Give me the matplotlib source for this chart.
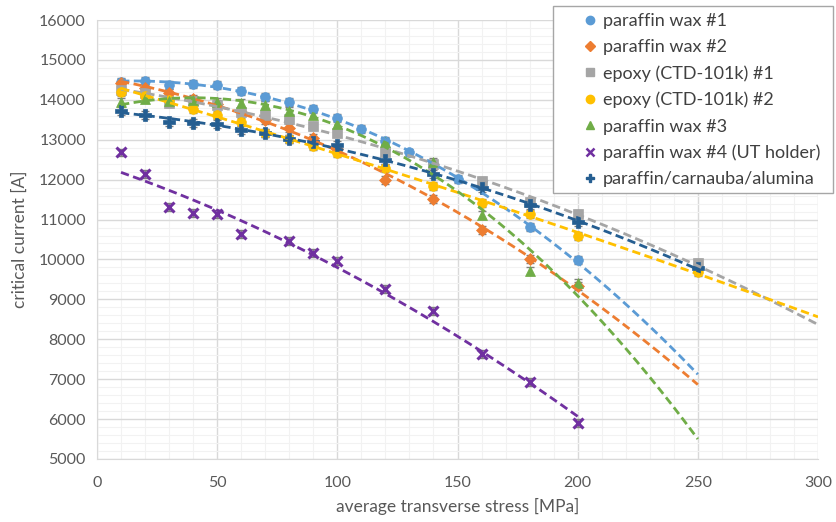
import numpy as np
import matplotlib
matplotlib.use("Agg")
import matplotlib.pyplot as plt
from matplotlib.lines import Line2D
from matplotlib.patches import Rectangle

plt.rcParams['font.family'] = ['Lato', 'DejaVu Sans']

# ---------------- data ----------------
labels = ["paraffin wax #1", "paraffin wax #2", "epoxy (CTD-101k) #1",
          "epoxy (CTD-101k) #2", "paraffin wax #3", "paraffin wax #4 (UT holder)",
          "paraffin/carnauba/alumina"]

x_pw1 = [10, 20, 30, 40, 50, 60, 70, 80, 90, 100, 110, 120, 130, 140, 150, 180, 200]
y_pw1 = [14450, 14480, 14370, 14390, 14370, 14230, 14080, 13940, 13770, 13550,
         13280, 12960, 12680, 12380, 12010, 10810, 9990]

x_pw2 = [10, 20, 30, 40, 50, 60, 70, 80, 90, 100, 120, 140, 160, 180, 200]
y_pw2 = [14430, 14300, 14160, 14030, 13900, 13700, 13500, 13290, 13040, 12760,
         11990, 11510, 10750, 10020, 9330]

x_ep1 = [10, 20, 30, 40, 50, 60, 70, 80, 90, 100, 120, 140, 160, 180, 200, 250]
y_ep1 = [14250, 14160, 13920, 13960, 13880, 13700, 13620, 13530, 13350, 13160,
         12700, 12400, 11960, 11450, 11150, 9900]

x_ep2 = [10, 20, 30, 40, 50, 60, 70, 80, 90, 100, 120, 140, 160, 180, 200, 250]
y_ep2 = [14190, 14090, 14000, 13770, 13610, 13450, 13160, 13030, 12850, 12660,
         12280, 11840, 11420, 11140, 10590, 9690]

x_pw3 = [10, 20, 30, 40, 50, 60, 70, 80, 90, 100, 120, 140, 160, 180, 200]
y_pw3 = [13950, 14030, 13980, 14000, 13940, 13910, 13860, 13710, 13610, 13390,
         12950, 12450, 11110, 9720, 9410]

x_pw4 = [10, 20, 30, 40, 50, 60, 80, 90, 100, 120, 140, 160, 180, 200]
y_pw4 = [12680, 12140, 11320, 11170, 11140, 10650, 10460, 10170, 9970, 9270,
         8710, 7640, 6930, 5900]

x_pca = [10, 20, 30, 40, 50, 60, 70, 80, 90, 100, 120, 140, 160, 180, 200, 250]
y_pca = [13720, 13620, 13450, 13410, 13390, 13240, 13170, 13010, 12950, 12860,
         12490, 12140, 11780, 11360, 10950, 9780]

err = 100  # error bar half-width [A]

# trendline extents (polynomial, order 2)
trend_end = [250, 250, 300, 300, 250, 200, 250]

xs = [x_pw1, x_pw2, x_ep1, x_ep2, x_pw3, x_pw4, x_pca]
ys = [y_pw1, y_pw2, y_ep1, y_ep2, y_pw3, y_pw4, y_pca]

colors = ["#5B9BD5", "#ED7D31", "#A5A5A5", "#FFC000", "#70AD47", "#7030A0", "#255E91"]
markers = ["o", "D", "s", "o", "^", "x", "P"]
msizes = [7, 6, 6.5, 7, 7, 7, 8]

# ---------------- figure ----------------
fig = plt.figure(figsize=(8.36, 5.22), dpi=100)
ax = fig.add_axes([97/836, 1-459/522, (818-97)/836, (459-20)/522])

ax.set_xlim(0, 300)
ax.set_ylim(5000, 16000)
ax.set_xticks(np.arange(0, 301, 50))
ax.set_yticks(np.arange(5000, 16001, 1000))
ax.set_xticks(np.arange(0, 301, 10), minor=True)
ax.set_yticks(np.arange(5000, 16001, 200), minor=True)
ax.grid(which='major', color='#d9d9d9', lw=1.0, zorder=0)
ax.grid(which='minor', color='#f2f2f2', lw=0.8, zorder=0)
ax.set_axisbelow(True)
for s in ax.spines.values():
    s.set_visible(False)
ax.spines['left'].set_visible(True)
ax.spines['bottom'].set_visible(True)
ax.spines['left'].set_color('#d9d9d9')
ax.spines['bottom'].set_color('#d9d9d9')
ax.tick_params(which='both', length=0, labelsize=11.5, colors='#595959')
ax.tick_params(axis='x', pad=12)
ax.tick_params(axis='y', pad=8)

ax.set_xlabel("average transverse stress [MPa]", fontsize=12.5, color='#595959', labelpad=6)
ax.set_ylabel("critical current [A]", fontsize=12.5, color='#595959', labelpad=8)

handles = []
for i in range(len(labels)):
    x = np.array(xs[i], float)
    y = np.array(ys[i], float)
    c = colors[i]
    m = markers[i]
    mew = 2.2 if m in ("x",) else 0.5
    ax.errorbar(x, y, yerr=err, fmt='none', ecolor='#7f7f7f', elinewidth=1,
                capsize=3, capthick=1, zorder=3)
    if m == "x":
        ax.plot(x, y, ls='none', marker=m, ms=msizes[i], mec=c, mew=mew, zorder=4)
    else:
        ax.plot(x, y, ls='none', marker=m, ms=msizes[i], mfc=c, mec=c, mew=mew, zorder=4)
    coef = np.polyfit(x, y, 2)
    xt = np.linspace(x.min(), trend_end[i], 200)
    ax.plot(xt, np.polyval(coef, xt), ls=(0, (3, 1.6)), lw=2.0, color=c, zorder=5)
    if m == "x":
        h = Line2D([], [], ls='none', marker=m, ms=6, mec=c, mew=1.8)
    else:
        h = Line2D([], [], ls='none', marker=m, ms=6 if m != "D" else 5, mfc=c, mec=c)
    handles.append(h)

# legend box
fig.patches.append(Rectangle((553/836, 1-193/522), (833-553)/836, (193-6)/522,
                             transform=fig.transFigure, facecolor='white',
                             edgecolor='#a6a6a6', lw=1.0, zorder=10))
leg = fig.legend(handles, labels, loc='upper left',
                 bbox_to_anchor=(581/836, 1-13/522), frameon=False,
                 fontsize=13, labelspacing=0.56, handlelength=1.0,
                 handletextpad=0.2, borderaxespad=0, borderpad=0)
leg.set_zorder(11)
for t in leg.get_texts():
    t.set_color('#404040')

fig.savefig("out.png", dpi=100)
